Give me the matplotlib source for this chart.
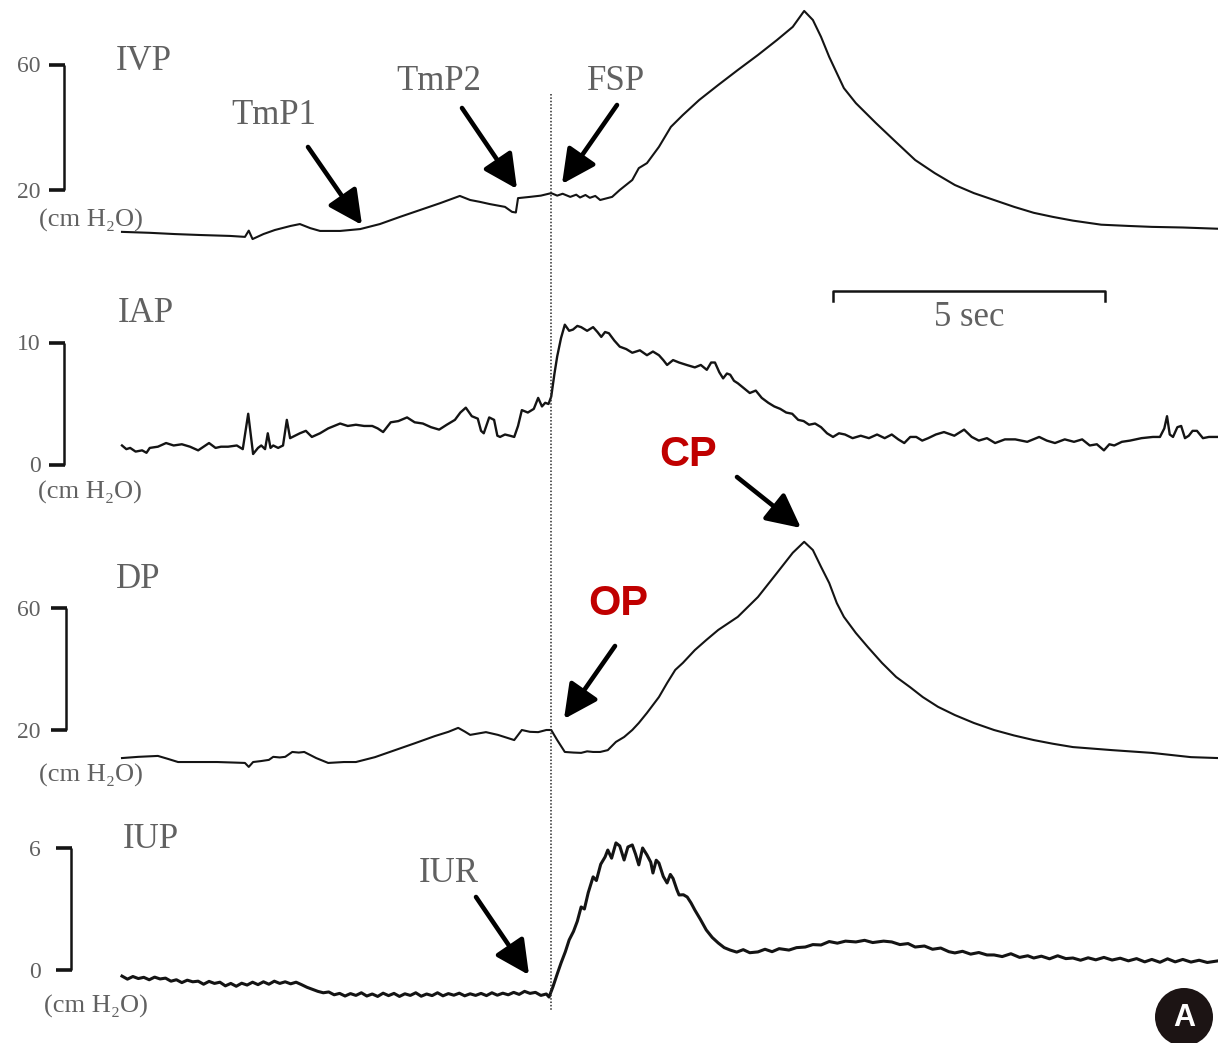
import matplotlib
matplotlib.use('Agg')
import matplotlib.pyplot as plt
from matplotlib.patches import Ellipse
import numpy as np

# ---------------- data (time in s, pressure in cm H2O) ----------------
ivp_t = [0, 0.51, 0.97, 1.43, 1.99, 2.26, 2.33, 2.40, 2.60, 2.81,
         3.10, 3.27, 3.46, 3.64, 4.01, 4.38, 4.74, 5.11, 5.48, 5.85,
         6.21, 6.40, 6.58, 6.76, 7.04, 7.17, 7.24, 7.28, 7.50, 7.70,
         7.89, 8.00, 8.10, 8.24, 8.35, 8.42, 8.52, 8.60, 8.70, 8.79,
         9.01, 9.15, 9.38, 9.50, 9.65, 9.87, 10.09, 10.31, 10.61, 10.96,
         11.32, 11.69, 12.04, 12.33, 12.54, 12.70, 12.85, 13.00, 13.14, 13.27,
         13.49, 13.86, 14.23, 14.58, 14.94, 15.31, 15.66, 16.03, 16.40, 16.76,
         17.11, 17.48, 18.00, 18.50, 18.93, 19.50, 20.15]
ivp_v = [6.6, 6.3, 5.9, 5.6, 5.3, 5.0, 7.0, 4.3, 5.9, 7.2,
         8.5, 9.1, 7.8, 6.9, 6.9, 7.5, 9.1, 11.4, 13.6, 15.8,
         18.1, 16.8, 16.2, 15.5, 14.6, 13.0, 12.8, 17.4, 17.8, 18.2,
         19.0, 18.2, 18.8, 17.8, 18.5, 17.6, 18.4, 17.5, 18.1, 16.8,
         17.8, 20.0, 23.2, 27.0, 28.6, 33.8, 40.2, 44.0, 48.8, 53.6,
         58.4, 63.2, 68.0, 72.2, 77.3, 74.4, 69.0, 62.6, 57.4, 52.6,
         47.8, 41.4, 35.3, 29.6, 25.4, 21.6, 19.0, 16.8, 14.6, 12.7,
         11.4, 10.2, 8.9, 8.5, 8.2, 8.0, 7.6]

iap_t = [0.00, 0.08, 0.15, 0.25, 0.37, 0.45, 0.51, 0.66, 0.81, 0.95,
         1.10, 1.25, 1.40, 1.50, 1.60, 1.72, 1.82, 1.95, 2.11, 2.22,
         2.32, 2.41, 2.50, 2.56, 2.63, 2.68, 2.73, 2.78, 2.87, 2.96,
         3.03, 3.09, 3.18, 3.27, 3.38, 3.49, 3.64, 3.79, 3.90, 4.01,
         4.15, 4.30, 4.45, 4.60, 4.70, 4.80, 4.94, 5.08, 5.24, 5.38,
         5.53, 5.68, 5.83, 5.97, 6.12, 6.22, 6.32, 6.43, 6.54, 6.60,
         6.65, 6.75, 6.84, 6.90, 6.95, 7.04, 7.13, 7.21, 7.28, 7.35,
         7.46, 7.57, 7.65, 7.72, 7.78, 7.84, 7.89, 7.95, 8.00, 8.07,
         8.14, 8.22, 8.29, 8.37, 8.44, 8.55, 8.66, 8.74, 8.81, 8.88,
         8.95, 9.05, 9.15, 9.27, 9.38, 9.52, 9.65, 9.76, 9.87, 9.95,
         10.02, 10.13, 10.24, 10.38, 10.53, 10.64, 10.75, 10.83, 10.90, 10.98,
         11.05, 11.12, 11.18, 11.25, 11.32, 11.43, 11.54, 11.65, 11.76, 11.88,
         11.99, 12.10, 12.21, 12.32, 12.43, 12.53, 12.63, 12.74, 12.85, 12.96,
         13.07, 13.18, 13.29, 13.43, 13.58, 13.73, 13.88, 14.02, 14.15, 14.27,
         14.38, 14.49, 14.60, 14.71, 14.82, 14.96, 15.11, 15.30, 15.48, 15.62,
         15.75, 15.90, 16.05, 16.23, 16.42, 16.64, 16.86, 17.00, 17.15, 17.33,
         17.50, 17.65, 17.79, 17.92, 18.05, 18.15, 18.24, 18.38, 18.53, 18.74,
         18.95, 19.08, 19.16, 19.21, 19.26, 19.32, 19.40, 19.47, 19.54, 19.61,
         19.68, 19.76, 19.87, 19.98, 20.15]
iap_v = [1.6, 1.3, 1.4, 1.1, 1.2, 1.0, 1.4, 1.5, 1.8, 1.6,
         1.7, 1.5, 1.2, 1.5, 1.8, 1.4, 1.5, 1.5, 1.6, 1.3,
         4.2, 0.9, 1.4, 1.6, 1.3, 2.6, 1.4, 1.6, 1.4, 1.6,
         3.7, 2.2, 2.4, 2.6, 2.8, 2.3, 2.6, 3.0, 3.2, 3.4,
         3.2, 3.3, 3.2, 3.2, 3.0, 2.7, 3.5, 3.6, 3.9, 3.5,
         3.4, 3.1, 2.9, 3.3, 3.7, 4.3, 4.7, 4.0, 3.8, 2.8,
         2.6, 3.9, 3.7, 2.4, 2.3, 2.5, 2.4, 2.3, 3.2, 4.5,
         4.3, 4.6, 5.5, 4.8, 5.1, 5.0, 5.6, 7.5, 8.9, 10.4,
         11.5, 11.0, 11.1, 11.4, 11.3, 11.0, 11.3, 10.9, 10.5, 10.9,
         10.8, 10.2, 9.7, 9.5, 9.2, 9.4, 9.0, 9.3, 9.0, 8.6,
         8.2, 8.6, 8.4, 8.2, 8.0, 8.2, 7.8, 8.4, 8.4, 7.6,
         7.1, 7.5, 7.4, 6.9, 6.7, 6.3, 5.9, 6.1, 5.5, 5.1,
         4.8, 4.6, 4.3, 4.2, 3.7, 3.6, 3.3, 3.4, 3.1, 2.6,
         2.3, 2.6, 2.5, 2.2, 2.4, 2.2, 2.5, 2.2, 2.5, 2.1,
         1.8, 2.3, 2.3, 2.0, 2.2, 2.5, 2.7, 2.4, 2.9, 2.3,
         2.0, 2.2, 1.8, 2.1, 2.1, 1.9, 2.3, 2.0, 1.8, 2.1,
         1.9, 2.1, 1.6, 1.7, 1.2, 1.7, 1.6, 1.9, 2.0, 2.2,
         2.3, 2.3, 3.0, 4.0, 2.5, 2.3, 3.1, 3.2, 2.2, 2.4,
         2.8, 2.8, 2.2, 2.3, 2.3]

dp_t = [0.00, 0.30, 0.66, 0.85, 1.03, 1.40, 1.75, 2.10, 2.26, 2.33,
        2.41, 2.55, 2.70, 2.78, 2.90, 3.00, 3.13, 3.25, 3.35, 3.57,
        3.79, 4.08, 4.30, 4.65, 5.02, 5.39, 5.75, 6.00, 6.18, 6.30,
        6.40, 6.69, 6.91, 7.21, 7.35, 7.50, 7.65, 7.80, 7.89, 8.00,
        8.14, 8.30, 8.44, 8.55, 8.66, 8.79, 8.93, 9.08, 9.23, 9.38,
        9.50, 9.65, 9.87, 10.02, 10.17, 10.31, 10.53, 10.74, 10.96, 11.32,
        11.69, 12.04, 12.33, 12.54, 12.70, 12.85, 13.00, 13.14, 13.27, 13.49,
        13.71, 13.97, 14.23, 14.49, 14.72, 15.00, 15.31, 15.66, 16.03, 16.40,
        16.76, 17.11, 17.48, 18.20, 18.93, 19.65, 20.15]
dp_v = [10.8, 11.2, 11.5, 10.5, 9.5, 9.5, 9.5, 9.3, 9.2, 7.9,
        9.5, 9.8, 10.2, 11.2, 11.0, 11.2, 12.8, 12.6, 12.8, 10.8,
        9.2, 9.5, 9.5, 11.1, 13.4, 15.7, 18.0, 19.4, 20.7, 19.5,
        18.4, 19.3, 18.4, 16.7, 20.0, 19.4, 19.3, 20.0, 20.0, 16.7,
        12.8, 12.6, 12.5, 13.0, 12.8, 12.8, 13.4, 16.1, 17.7, 20.0,
        22.3, 25.6, 30.8, 35.4, 39.7, 42.0, 46.2, 49.5, 52.8, 57.1,
        63.6, 71.5, 78.1, 81.7, 79.0, 73.5, 68.2, 61.6, 57.1, 51.8,
        47.2, 42.0, 37.4, 34.0, 30.8, 27.6, 24.9, 22.3, 20.0, 18.2,
        16.7, 15.5, 14.4, 13.4, 12.5, 11.1, 10.8]

iup_t = [0.00, 0.10, 0.20, 0.30, 0.40, 0.50, 0.60, 0.70, 0.80, 0.90,
         1.00, 1.10, 1.20, 1.30, 1.40, 1.50, 1.60, 1.70, 1.80, 1.90,
         2.00, 2.10, 2.20, 2.30, 2.40, 2.50, 2.60, 2.70, 2.80, 2.90,
         3.00, 3.10, 3.20, 3.30, 3.40, 3.50, 3.60, 3.70, 3.80, 3.90,
         4.00, 4.10, 4.20, 4.30, 4.40, 4.50, 4.60, 4.70, 4.80, 4.90,
         5.00, 5.10, 5.20, 5.30, 5.40, 5.50, 5.60, 5.70, 5.80, 5.90,
         6.00, 6.10, 6.20, 6.30, 6.40, 6.50, 6.60, 6.70, 6.80, 6.90,
         7.00, 7.10, 7.20, 7.30, 7.40, 7.50, 7.60, 7.70, 7.80, 7.85,
         7.92, 8.00, 8.07, 8.15, 8.22, 8.30, 8.37, 8.44, 8.50, 8.57,
         8.66, 8.72, 8.80, 8.88, 8.93, 9.00, 9.08, 9.15, 9.23, 9.30,
         9.38, 9.44, 9.50, 9.57, 9.65, 9.72, 9.76, 9.82, 9.87, 9.95,
         10.02, 10.08, 10.13, 10.20, 10.24, 10.32, 10.39, 10.46, 10.53, 10.63,
         10.74, 10.85, 10.96, 11.07, 11.18, 11.30, 11.42, 11.54, 11.69, 11.82,
         11.95, 12.08, 12.26, 12.40, 12.56, 12.70, 12.85, 13.00, 13.15, 13.30,
         13.49, 13.65, 13.80, 14.00, 14.15, 14.30, 14.45, 14.58, 14.75, 14.90,
         15.05, 15.20, 15.31, 15.45, 15.60, 15.75, 15.90, 16.03, 16.18, 16.34,
         16.50, 16.65, 16.76, 16.90, 17.05, 17.20, 17.35, 17.48, 17.62, 17.76,
         17.90, 18.05, 18.20, 18.35, 18.50, 18.65, 18.80, 18.93, 19.08, 19.22,
         19.36, 19.50, 19.65, 19.80, 19.95, 20.15]
iup_v = [-0.30, -0.45, -0.32, -0.42, -0.36, -0.48, -0.35, -0.44, -0.40, -0.55,
         -0.48, -0.62, -0.50, -0.58, -0.55, -0.70, -0.56, -0.66, -0.60, -0.78,
         -0.66, -0.80, -0.65, -0.74, -0.60, -0.72, -0.58, -0.70, -0.55, -0.66,
         -0.58, -0.68, -0.60, -0.72, -0.85, -0.95, -1.05, -1.12, -1.08, -1.22,
         -1.15, -1.28, -1.16, -1.25, -1.12, -1.28, -1.18, -1.30, -1.14, -1.26,
         -1.15, -1.30, -1.17, -1.25, -1.12, -1.29, -1.18, -1.26, -1.12, -1.27,
         -1.16, -1.24, -1.14, -1.27, -1.17, -1.25, -1.15, -1.26, -1.12, -1.24,
         -1.14, -1.22, -1.10, -1.20, -1.05, -1.15, -1.10, -1.25, -1.18, -1.33,
         -0.84, -0.20, 0.34, 0.90, 1.48, 1.90, 2.40, 3.10, 3.00, 3.80,
         4.58, 4.40, 5.20, 5.56, 5.90, 5.50, 6.25, 6.10, 5.41, 6.05,
         6.15, 5.70, 5.17, 6.00, 5.66, 5.30, 4.77, 5.40, 5.26, 4.60,
         4.28, 4.70, 4.50, 3.95, 3.69, 3.70, 3.59, 3.30, 2.95, 2.50,
         1.97, 1.60, 1.33, 1.10, 0.98, 0.88, 1.00, 0.85, 0.89, 1.02,
         0.90, 1.05, 0.98, 1.10, 1.13, 1.25, 1.23, 1.40, 1.32, 1.42,
         1.38, 1.46, 1.35, 1.42, 1.38, 1.25, 1.30, 1.13, 1.18, 1.02,
         1.08, 0.90, 0.84, 0.92, 0.78, 0.86, 0.74, 0.74, 0.66, 0.80,
         0.62, 0.70, 0.59, 0.68, 0.55, 0.70, 0.56, 0.59, 0.48, 0.60,
         0.50, 0.62, 0.49, 0.58, 0.45, 0.56, 0.40, 0.52, 0.38, 0.55,
         0.40, 0.52, 0.39, 0.48, 0.37, 0.45]

panel_names = ["IVP", "IAP", "DP", "IUP"]
cal_low = [20, 0, 20, 0]
cal_high = [60, 10, 60, 6]
cal_low_lbl = ["20", "0", "20", "0"]
cal_high_lbl = ["60", "10", "60", "6"]
event_time = 7.89      # dotted vertical marker (s)
scale_start = 13.07    # start of the 5-s bar (s)
scale_len = 5

# ---------------- layout (pixels) ----------------
W, H = 1218, 1043
PX_PER_SEC = 54.4
T0_PX = 122
cal_px = [(190, 65), (465, 343), (730, 608), (970, 848)]   # pixel rows of low/high calibration
bar_x = [64, 64, 66, 71]
name_pos = [(144, 61), (146, 314), (138, 579), (151, 839)]
unit_pos = [(91, 220), (90, 492), (91, 775), (96, 1006)]
trace_lw = [1.5, 1.7, 1.5, 2.2]

GRAY = '#616161'
INK = '#141414'
SERIF = ['Liberation Serif', 'DejaVu Serif']

fig = plt.figure(figsize=(W / 100, H / 100), dpi=100)
xlim = (-T0_PX / PX_PER_SEC, (W - T0_PX) / PX_PER_SEC)

series = [(ivp_t, ivp_v), (iap_t, iap_v), (dp_t, dp_v), (iup_t, iup_v)]
for i, (t, v) in enumerate(series):
    ax = fig.add_axes([0, 0, 1, 1])
    ax.axis('off')
    ax.patch.set_alpha(0)
    py_lo, py_hi = cal_px[i]
    k = (py_lo - py_hi) / (cal_high[i] - cal_low[i])
    ax.set_xlim(*xlim)
    ax.set_ylim(cal_low[i] - (H - py_lo) / k, cal_low[i] + py_lo / k)
    ax.plot(t, v, color=INK, lw=trace_lw[i], solid_joinstyle='round')

# overlay axes in pixel coordinates for annotations
ov = fig.add_axes([0, 0, 1, 1])
ov.set_xlim(0, W)
ov.set_ylim(H, 0)
ov.axis('off')
ov.patch.set_alpha(0)

def tx(t):
    return T0_PX + t * PX_PER_SEC

# dotted event line
ov.plot([tx(event_time)] * 2, [94, 1011], color='#2a2a2a', lw=1.1,
        linestyle=(0, (1.0, 1.2)))

# calibration brackets, labels
for i in range(4):
    py_lo, py_hi = cal_px[i]
    bx = bar_x[i]
    ov.plot([bx, bx], [py_hi, py_lo], color=INK, lw=1.8, solid_capstyle='butt')
    ov.plot([bx - 15, bx + 1], [py_hi, py_hi], color=INK, lw=2.6, solid_capstyle='butt')
    ov.plot([bx - 15, bx + 1], [py_lo, py_lo], color=INK, lw=2.6, solid_capstyle='butt')
    ov.text(41, py_hi + 2, cal_high_lbl[i], ha='right', va='center', fontsize=17,
            color=GRAY, family=SERIF)
    ov.text(41, py_lo + 2, cal_low_lbl[i], ha='right', va='center', fontsize=17,
            color=GRAY, family=SERIF)
    ov.text(*name_pos[i], panel_names[i], ha='center', va='center', fontsize=25,
            color=GRAY, family=SERIF)
    ov.text(*unit_pos[i], "(cm H\u2082O)", ha='center', va='center', fontsize=19,
            color=GRAY, family=SERIF)

# 5 sec scale bar
x0, x1 = tx(scale_start), tx(scale_start + scale_len)
ov.plot([x0, x0, x1, x1], [301, 291, 291, 301], color=INK, lw=1.8)
ov.text((x0 + x1) / 2, 317, "5 sec", ha='center', va='center', fontsize=25,
        color=GRAY, family=SERIF)

# annotations with arrows
def arrow(tail, tip):
    ov.annotate('', xy=tip, xytext=tail, xycoords='data', textcoords='data',
                arrowprops=dict(arrowstyle='-|>,head_length=0.9,head_width=0.45',
                                lw=3.3, color='black', mutation_scale=23,
                                shrinkA=0, shrinkB=0))

gray_labels = [("TmP1", (274, 115)), ("TmP2", (439, 82)), ("FSP", (616, 82)),
               ("IUR", (449, 874))]
for s, p in gray_labels:
    ov.text(*p, s, ha='center', va='center', fontsize=25, color=GRAY, family=SERIF)

arrow((308, 147), (362, 225))
arrow((462, 108), (517, 189))
arrow((617, 105), (562, 184))
arrow((476, 897), (529, 975))
arrow((737, 477), (801, 528))
arrow((615, 646), (564, 719))

for s, p in [("CP", (688, 455)), ("OP", (618, 604))]:
    ov.text(*p, s, ha='center', va='center', fontsize=30, color='#C00000',
            family=['Liberation Sans', 'DejaVu Sans'], fontweight='bold')

# panel badge
ov.add_patch(Ellipse((1184, 1017), 58, 58, facecolor='#1c1414', edgecolor='none'))
ov.text(1184, 1018, "A", ha='center', va='center', fontsize=22, color='white',
        family=['Liberation Sans', 'DejaVu Sans'], fontweight='bold')

fig.savefig('out.png', dpi=100, facecolor='white')
